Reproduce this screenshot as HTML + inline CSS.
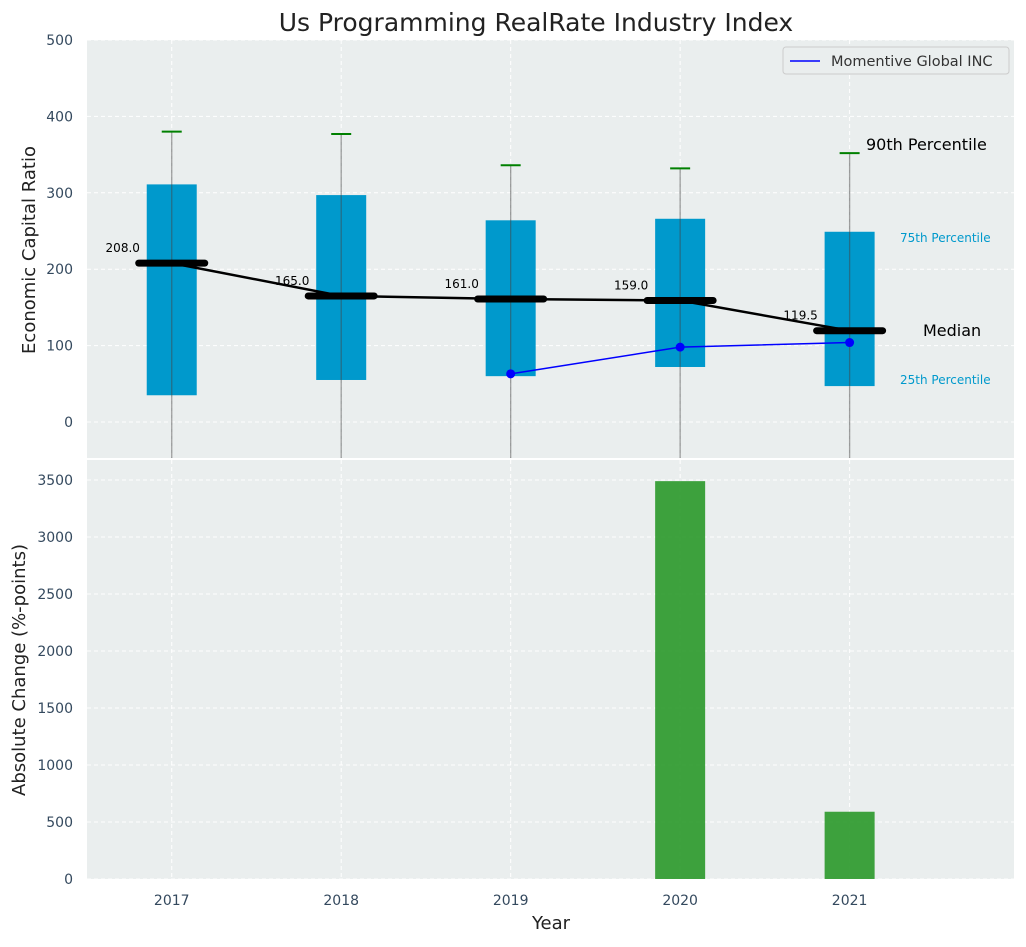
<!DOCTYPE html>
<html><head><meta charset="utf-8"><style>
body{margin:0;background:#fff;}
svg text{font-family:"DejaVu Sans","Liberation Sans",sans-serif;}
</style></head><body>
<svg id="c" width="1026" height="942" xmlns="http://www.w3.org/2000/svg"></svg>
<script>
const years=[2017,2018,2019,2020,2021];
const q1=[35,55,60,72,47];
const q3=[311,297,264,266,249];
const p90=[380,377,336,332,352];
const medians=[208,165,161,159,119.5];
const medianLabels=["208.0","165.0","161.0","159.0","119.5"];
const companyYears=[2019,2020,2021];
const companyVals=[63,98,104];
const changeYears=[2020,2021];
const changeVals=[3490,590];
const topTicks=[0,100,200,300,400,500];
const botTicks=[0,500,1000,1500,2000,2500,3000,3500];

const NS="http://www.w3.org/2000/svg";
const svg=document.getElementById('c');
function el(t,a,p){const e=document.createElementNS(NS,t);for(const k in a)e.setAttribute(k,a[k]);(p||svg).appendChild(e);return e;}
const L=87,R=1014;
const x=v=>L+(v-2016.5)/(2021.97-2016.5)*(R-L);
const T0=40,T1=458;const yt=v=>422-v*0.764;
const B0=460,B1=879;const yb=v=>879-v*(399/3500);

let t=el('text',{x:536,y:31,'font-size':25,'text-anchor':'middle',fill:'#222'});t.textContent='Us Programming RealRate Industry Index';


let p=el('rect',{x:L,y:T0,width:R-L,height:T1-T0,fill:'#eaeeee'});

p=el('rect',{x:L,y:B0,width:R-L,height:B1-B0,fill:'#eaeeee'});


years.forEach(yr=>{
 el('line',{x1:x(yr),x2:x(yr),y1:T0,y2:T1,stroke:'#fff','stroke-dasharray':'4,3','stroke-width':1});
 el('line',{x1:x(yr),x2:x(yr),y1:B0,y2:B1,stroke:'#fff','stroke-dasharray':'4,3','stroke-width':1});
});
topTicks.forEach(v=>{
 el('line',{x1:L,x2:R,y1:yt(v),y2:yt(v),stroke:'#fff','stroke-dasharray':'4,3'});
 const tx=el('text',{x:L-14,y:yt(v)+5,'font-size':14,'text-anchor':'end',fill:'#34495e'});tx.textContent=v;
 
});
botTicks.forEach(v=>{
 el('line',{x1:L,x2:R,y1:yb(v),y2:yb(v),stroke:'#fff','stroke-dasharray':'4,3'});
 const tx=el('text',{x:L-14,y:yb(v)+5,'font-size':14,'text-anchor':'end',fill:'#34495e'});tx.textContent=v;
 
});
years.forEach(yr=>{
 const tx=el('text',{x:x(yr),y:905,'font-size':14,'text-anchor':'middle',fill:'#34495e'});tx.textContent=yr;
 
});

years.forEach((yr,i)=>{
 const b=el('rect',{x:x(yr)-25,y:yt(q3[i]),width:50,height:yt(q1[i])-yt(q3[i]),fill:'#0099cc'});
 
 const w=el('line',{x1:x(yr),x2:x(yr),y1:yt(p90[i]),y2:T1,stroke:'#444','stroke-opacity':0.5,'stroke-width':1.3});
 
 const c=el('line',{x1:x(yr)-10,x2:x(yr)+10,y1:yt(p90[i]),y2:yt(p90[i]),stroke:'green','stroke-width':2});
 
});
const ml=el('polyline',{points:years.map((yr,i)=>x(yr)+','+yt(medians[i])).join(' '),fill:'none',stroke:'#000','stroke-width':2.5});

years.forEach((yr,i)=>{
 const m=el('line',{x1:x(yr)-33,x2:x(yr)+33,y1:yt(medians[i]),y2:yt(medians[i]),stroke:'#000','stroke-width':7,'stroke-linecap':'round'});
 
 const tx=el('text',{x:x(yr)-49,y:yt(medians[i])-11,'font-size':12,'text-anchor':'middle',fill:'#000'});tx.textContent=medianLabels[i];
 
});
const cl=el('polyline',{points:companyYears.map((yr,i)=>x(yr)+','+yt(companyVals[i])).join(' '),fill:'none',stroke:'#0000ff','stroke-width':1.5});

companyYears.forEach((yr,i)=>{
 const d=el('circle',{cx:x(yr),cy:yt(companyVals[i]),r:4.5,fill:'#0000ff'});
 
});
[['90th Percentile',866,150,16,'#000'],['75th Percentile',900,242,12,'#0099cc'],['Median',923,336,16,'#000'],['25th Percentile',900,384,12,'#0099cc']].forEach(a=>{
 const tx=el('text',{x:a[1],y:a[2],'font-size':a[3],fill:a[4]});tx.textContent=a[0];
 
});
const lg=el('g',{});
el('rect',{x:783,y:47,width:226,height:27,rx:3,fill:'#eaeeee',stroke:'#ccc'},lg);
el('line',{x1:790,x2:820,y1:61,y2:61,stroke:'#0000ff','stroke-width':1.5},lg);
const lt=el('text',{x:831,y:66,'font-size':14.5,fill:'#333'},lg);lt.textContent='Momentive Global INC';

changeYears.forEach((yr,i)=>{
 const b=el('rect',{x:x(yr)-25,y:yb(changeVals[i]),width:50,height:yb(0)-yb(changeVals[i]),fill:'#2e9a2e','fill-opacity':0.92});
 
});

let a=el('text',{x:0,y:0,'font-size':18,'text-anchor':'middle',fill:'#222',transform:'translate(35,250) rotate(-90)'});a.textContent='Economic Capital Ratio';

a=el('text',{x:0,y:0,'font-size':18,'text-anchor':'middle',fill:'#222',transform:'translate(25,670) rotate(-90)'});a.textContent='Absolute Change (%-points)';

a=el('text',{x:551,y:929,'font-size':18,'text-anchor':'middle',fill:'#222'});a.textContent='Year';

</script>
</body></html>
